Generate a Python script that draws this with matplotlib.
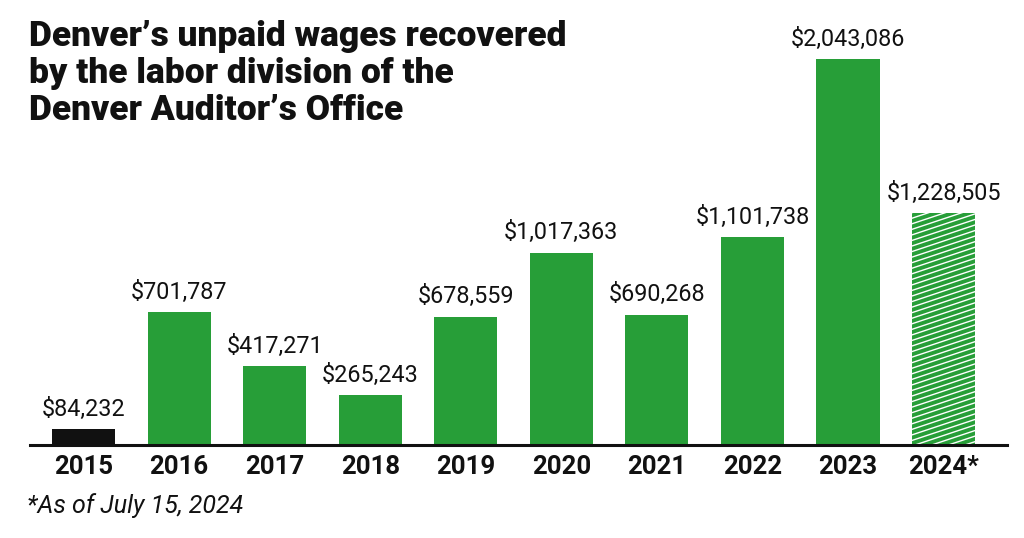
import matplotlib
matplotlib.use("Agg")
import matplotlib.pyplot as plt
import matplotlib.hatch as mhatch
from matplotlib.path import Path

years = ["2015", "2016", "2017", "2018", "2019", "2020", "2021", "2022", "2023", "2024*"]
values = [84232, 701787, 417271, 265243, 678559, 1017363, 690268, 1101738, 2043086, 1228505]
labels = ["$84,232", "$701,787", "$417,271", "$265,243", "$678,559", "$1,017,363",
          "$690,268", "$1,101,738", "$2,043,086", "$1,228,505"]
title = "Denver\u2019s unpaid wages recovered\nby the labor division of the\nDenver Auditor\u2019s Office"
footnote = "*As of July 15, 2024"


# shallow-angle stripe hatch (replaces the 45-degree '/' pattern)
class SlantHatch(mhatch.HatchPatternBase):
    N = 18
    RISE = 6

    def __init__(self, hatch, density):
        if "/" in hatch:
            self.offsets = [k / self.N for k in range(-self.RISE, self.N + 1)]
        else:
            self.offsets = []
        self.num_lines = len(self.offsets)
        self.num_vertices = self.num_lines * 2

    def set_vertices_and_codes(self, vertices, codes):
        r = self.RISE / self.N
        for i, c in enumerate(self.offsets):
            vertices[2 * i] = (0.0, c)
            vertices[2 * i + 1] = (1.0, c + r)
            codes[2 * i] = Path.MOVETO
            codes[2 * i + 1] = Path.LINETO


try:
    mhatch._hatch_types = [SlantHatch if t is mhatch.NorthEastHatch else t
                           for t in mhatch._hatch_types]
    HATCH_LW = 1.0
except Exception:
    HATCH_LW = 1.6

GREEN = "#279e38"
W, H = 1024, 538
plt.rcParams["hatch.linewidth"] = HATCH_LW
plt.rcParams["hatch.color"] = "white"
fig = plt.figure(figsize=(W / 100, H / 100), dpi=100)
fig.patch.set_facecolor("white")

base_px = 445
top_val = 2.2e6
px_per = 386 / 2043086
ax_h = top_val * px_per
ax = fig.add_axes([30 / W, 1 - base_px / H, 977 / W, ax_h / H])
ax.set_xlim(-0.56, 9.664)
ax.set_ylim(0, top_val)

x = list(range(len(years)))
colors = ["#111111"] + [GREEN] * (len(years) - 1)
bars = ax.bar(x, values, width=0.66, color=colors, linewidth=0)
last = bars[-1]
last.set_hatch("/")
last.set_edgecolor("white")
last.set_linewidth(0)

for xi, v, lab in zip(x, values, labels):
    ax.annotate(lab, (xi, v), xytext=(0, 6), textcoords="offset points",
                ha="center", va="bottom", fontsize=16.8, family="Roboto", color="#111111")

for s in ["top", "right", "left"]:
    ax.spines[s].set_visible(False)
ax.spines["bottom"].set_linewidth(2.2)
ax.spines["bottom"].set_color("#111111")
ax.set_yticks([])
ax.set_xticks(x)
ax.set_xticklabels(years, fontsize=18.5, fontweight="bold", family="Roboto", color="#111111")
ax.tick_params(axis="x", length=0, pad=7)

fig.text(29 / W, 1 - 20 / H, title, ha="left", va="top", fontsize=25.5, fontweight="black",
         family="Roboto", color="#111111", linespacing=1.16)
fig.text(27 / W, 1 - 506 / H, footnote, ha="left", va="center", fontsize=18,
         style="italic", family="Roboto", color="#111111")

fig.savefig("out.png", dpi=100, facecolor="white")
